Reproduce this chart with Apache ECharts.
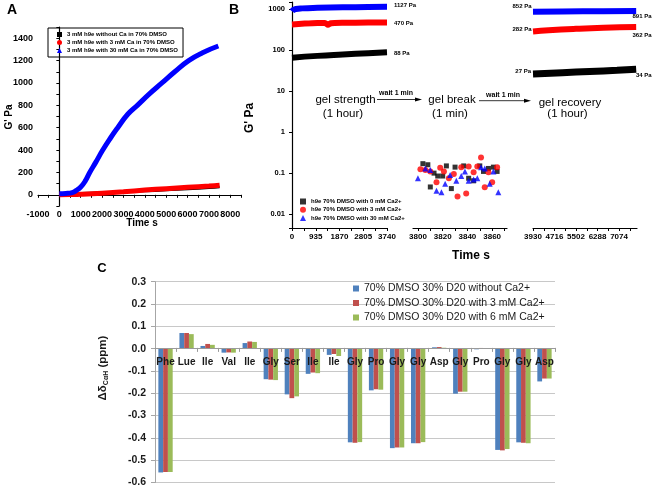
<!DOCTYPE html>
<html><head><meta charset="utf-8">
<script src="https://cdn.jsdelivr.net/npm/echarts@6/dist/echarts.min.js"></script>
<style>html,body{margin:0;padding:0;background:#fff}#c{width:656px;height:488px}</style>
</head><body><div id="c"></div>
<script>
// ---------- Panel A ----------
const aNames = ['3 mM h9e without Ca in 70% DMSO', '3 mM h9e with 3 mM Ca in 70% DMSO', '3 mM h9e with 30 mM Ca in 70% DMSO'];
const aBlack = [[0,5],[500,10],[1000,14],[2000,20],[3000,26],[4000,33],[5000,42],[6000,52],[7000,63],[7500,70]];
const aRed = [[0,0],[500,2],[1000,5],[2000,15],[3000,28],[4000,42],[5000,55],[6000,67],[7000,78],[7500,85]];
const aBlue = [[0,10],[300,12],[600,20],[800,40],[1000,70],[1200,120],[1420,200],[1700,290],[2030,400],[2400,510],[2730,600],[3200,720],[3650,800],[4200,900],[4800,1000],[5400,1100],[6050,1200],[6700,1270],[7440,1330]];

// ---------- Panel B ----------
const bNames = ['h9e 70% DMSO with 0 mM Ca2+', 'h9e 70% DMSO with 3 mM Ca2+', 'h9e 70% DMSO with 30 mM Ca2+'];
const bStrengthBlack = [[0,65],[1000,72],[2000,78],[3000,84],[3740,88]];
const bStrengthRed = [[0,420],[500,440],[1000,455],[1300,456],[1417,412],[1530,448],[2000,460],[3000,468],[3740,470]];
const bStrengthBlue = [[0,880],[60,950],[150,1000],[400,1035],[1000,1065],[2000,1095],[3000,1115],[3740,1127]];
const bBreakBlack = [[3804,0.17],[3808,0.16],[3810,0.046],[3813,0.10],[3816,0.085],[3820,0.085],[3823,0.15],[3827,0.042],[3830,0.14],[3837,0.15],[3841,0.075],[3845,0.065],[3850,0.15],[3853,0.11],[3857,0.13],[3861,0.14],[3864,0.11]];
const bBreakRed = [[3802,0.125],[3806,0.12],[3810,0.11],[3815,0.06],[3818,0.135],[3821,0.11],[3825,0.075],[3829,0.095],[3832,0.027],[3835,0.14],[3839,0.032],[3841,0.145],[3845,0.105],[3848,0.145],[3851,0.24],[3854,0.045],[3857,0.105],[3860,0.06],[3864,0.14]];
const bBreakBlue = [[3800,0.075],[3806,0.13],[3810,0.12],[3815,0.037],[3819,0.034],[3822,0.055],[3826,0.09],[3831,0.065],[3835,0.085],[3838,0.11],[3841,0.065],[3845,0.07],[3848,0.075],[3851,0.14],[3854,0.13],[3858,0.055],[3861,0.11],[3865,0.034]];
const bRecoveryBlack = [[3930,26],[5000,28],[6000,30],[7000,32],[7700,34]];
const bRecoveryRed = [[3930,282],[4500,302],[5500,328],[6500,348],[7700,362]];
const bRecoveryBlue = [[3930,852],[5000,870],[6500,884],[7700,891]];
const bSeg1Labels = [0,935,1870,2805,3740];
const bSeg2Labels = [3800,3820,3840,3860];
const bSeg3Labels = [3930,4716,5502,6288,7074];

// ---------- Panel C ----------
const cCategories = ['Phe','Lue','Ile','Val','Ile','Gly','Ser','Ile','Ile','Gly','Pro','Gly','Gly','Asp','Gly','Pro','Gly','Gly','Asp'];
const cNames = ['70% DMSO 30% D20 without Ca2+','70% DMSO 30% D20 with 3 mM Ca2+','70% DMSO 30% D20 with 6 mM Ca2+'];
const cNoCa = [-0.555,0.070,0.012,-0.018,0.025,-0.137,-0.205,-0.113,-0.028,-0.420,-0.187,-0.446,-0.424,0.006,-0.202,-0.003,-0.454,-0.420,-0.147];
const cCa3 = [-0.553,0.070,0.021,-0.017,0.032,-0.139,-0.222,-0.107,-0.024,-0.422,-0.182,-0.443,-0.424,0.007,-0.193,0.003,-0.456,-0.422,-0.134];
const cCa6 = [-0.553,0.065,0.017,-0.018,0.030,-0.141,-0.214,-0.110,-0.033,-0.419,-0.184,-0.443,-0.419,0.004,-0.193,0.001,-0.450,-0.424,-0.134];

const F = 'Liberation Sans, Arial, sans-serif';
const isDecade = v => Math.abs(Math.log10(v) - Math.round(Math.log10(v))) < 1e-6;
const axisBlack = {lineStyle:{color:'#000', width:1.2}};

function bX(idx, min, max, labels, ticks) {
  return {type:'value', gridIndex:idx, min:min, max:max,
    axisLine:axisBlack, splitLine:{show:false},
    axisTick:{customValues:ticks, length:3, lineStyle:{color:'#000'}},
    axisLabel:{customValues:labels, fontSize:8, fontWeight:'bold', fontFamily:F, color:'#000', margin:5,
      formatter: v => String(v)}};
}
function bY(idx, show) {
  return {type:'log', gridIndex:idx, min:0.0046, max:1480, show:show,
    axisLine:{show:true, lineStyle:{color:'#000', width:1.2}}, splitLine:{show:false},
    axisTick:{length:3, lineStyle:{color:'#000'}},
    axisLabel:{fontSize:7.5, fontWeight:'bold', fontFamily:F, color:'#000', margin:7,
      formatter: v => isDecade(v) ? String(+v.toPrecision(6)) : ''}};
}
function range(a, b, s){ const r=[]; for(let v=a; v<=b+1e-9; v+=s) r.push(+v.toFixed(3)); return r; }

const T = (text, x, y, font, opts, rot) => ({type:'text', x:x, y:y, rotation:rot||0, style:Object.assign({text:text, font:font, fill:'#000', textAlign:'center', textVerticalAlign:'middle'}, opts||{})});

const option = {
  backgroundColor:'#fff',
  animation:false,
  grid:[
    {left:38, top:27, width:203, height:179},
    {left:292, top:2, width:95, height:226},
    {left:413, top:2, width:94, height:226},
    {left:533, top:2, width:104, height:226},
    {left:155, top:281.7, width:400, height:201.6}
  ],
  xAxis:[
    {type:'value', gridIndex:0, min:-1000, max:8500, interval:500,
      axisLine:axisBlack, splitLine:{show:false}, axisTick:{length:3, lineStyle:{color:'#000'}},
      axisLabel:{fontSize:9, fontWeight:'bold', fontFamily:F, color:'#000', margin:4,
        formatter: v => (v % 1000 === 0 && v <= 8000) ? String(v) : ''}},
    bX(1, 0, 3740, bSeg1Labels, range(0,3740,467.5)),
    bX(2, 3796, 3872, bSeg2Labels, range(3800,3870,10)),
    bX(3, 3930, 7730, bSeg3Labels, range(3930,7467,393)),
    {type:'category', gridIndex:4, data:cCategories, position:'bottom', offset:-134.6, z:20,
      axisLine:{onZero:false, lineStyle:{color:'#9a9a9a'}},
      axisTick:{show:true, length:4, interval:0, lineStyle:{color:'#9a9a9a'}},
      axisLabel:{interval:0, fontSize:10, fontWeight:'bold', fontFamily:F, color:'#1a1a1a', margin:9}}
  ],
  yAxis:[
    {type:'value', gridIndex:0, min:-100, max:1500, interval:100,
      axisLine:{show:true, lineStyle:{color:'#000', width:1.2}}, splitLine:{show:false},
      axisTick:{show:true, length:3, lineStyle:{color:'#000'}},
      axisLabel:{fontSize:9, fontWeight:'bold', fontFamily:F, color:'#000', margin:5,
        formatter: v => (v >= 0 && v % 200 === 0 && v <= 1400) ? String(v) : ''}},
    bY(1, true), bY(2, false), bY(3, false),
    {type:'value', gridIndex:4, min:-0.6, max:0.3, interval:0.1,
      axisLine:{show:true, lineStyle:{color:'#a6a6a6'}},
      axisTick:{show:true, length:4, lineStyle:{color:'#a6a6a6'}},
      splitLine:{show:true, lineStyle:{color:'#c8c8c8', width:1}},
      axisLabel:{fontSize:10.5, fontWeight:'bold', fontFamily:F, color:'#1a1a1a', margin:9,
        formatter: v => v.toFixed(1)}}
  ],
  legend:[
    {left:48, top:28, orient:'vertical', borderColor:'#000', borderWidth:1, padding:[3,5,3,9],
      itemGap:1, itemWidth:5, itemHeight:5, selectedMode:false,
      textStyle:{fontSize:6, fontWeight:'bold', fontFamily:F, color:'#000', lineHeight:7},
      data:[{name:aNames[0], icon:'rect'},{name:aNames[1], icon:'circle'},{name:aNames[2], icon:'triangle'}]},
    {left:300, top:198, orient:'vertical', padding:0, itemGap:1.3, itemWidth:6, itemHeight:6, selectedMode:false,
      textStyle:{fontSize:6, fontWeight:'bold', fontFamily:F, color:'#000', lineHeight:7},
      data:[{name:bNames[0], icon:'rect'},{name:bNames[1], icon:'circle'},{name:bNames[2], icon:'triangle'}]},
    {left:353, top:282, orient:'vertical', padding:0, itemGap:1.5, itemWidth:6, itemHeight:6, selectedMode:false,
      textStyle:{fontSize:10.5, fontFamily:F, color:'#1a1a1a', lineHeight:13},
      data:[{name:cNames[0], icon:'rect'},{name:cNames[1], icon:'rect'},{name:cNames[2], icon:'rect'}]}
  ],
  series:[
    {name:aNames[0], type:'line', xAxisIndex:0, yAxisIndex:0, data:aBlack, smooth:true, showSymbol:false, color:'#000', lineStyle:{width:2.5}},
    {name:aNames[1], type:'line', xAxisIndex:0, yAxisIndex:0, data:aRed, smooth:true, showSymbol:false, color:'#ff0000', lineStyle:{width:5}},
    {name:aNames[2], type:'line', xAxisIndex:0, yAxisIndex:0, data:aBlue, smooth:true, showSymbol:false, color:'#0000ff', lineStyle:{width:5}},

    {name:'s1k', type:'line', xAxisIndex:1, yAxisIndex:1, data:bStrengthBlack, smooth:true, showSymbol:false, color:'#000', lineStyle:{width:6}},
    {name:'s1r', type:'line', xAxisIndex:1, yAxisIndex:1, data:bStrengthRed, smooth:0.2, showSymbol:false, color:'#ff0000', lineStyle:{width:6}},
    {name:'s1b', type:'line', xAxisIndex:1, yAxisIndex:1, data:bStrengthBlue, smooth:true, showSymbol:false, color:'#0000ff', lineStyle:{width:6}},

    {name:bNames[0], type:'scatter', xAxisIndex:2, yAxisIndex:2, data:bBreakBlack, symbol:'rect', symbolSize:5, color:'#000'},
    {name:bNames[1], type:'scatter', xAxisIndex:2, yAxisIndex:2, data:bBreakRed, symbol:'circle', symbolSize:6, color:'#ff0000'},
    {name:bNames[2], type:'scatter', xAxisIndex:2, yAxisIndex:2, data:bBreakBlue, symbol:'triangle', symbolSize:6, color:'#0000ff'},

    {name:'s3k', type:'line', xAxisIndex:3, yAxisIndex:3, data:bRecoveryBlack, smooth:true, showSymbol:false, color:'#000', lineStyle:{width:7}},
    {name:'s3r', type:'line', xAxisIndex:3, yAxisIndex:3, data:bRecoveryRed, smooth:true, showSymbol:false, color:'#ff0000', lineStyle:{width:6}},
    {name:'s3b', type:'line', xAxisIndex:3, yAxisIndex:3, data:bRecoveryBlue, smooth:true, showSymbol:false, color:'#0000ff', lineStyle:{width:6}},

    {name:cNames[0], type:'bar', xAxisIndex:4, yAxisIndex:4, data:cNoCa, color:'#4f81bd', barGap:'0%', barCategoryGap:'32%'},
    {name:cNames[1], type:'bar', xAxisIndex:4, yAxisIndex:4, data:cCa3, color:'#c0504d', barGap:'0%', barCategoryGap:'32%'},
    {name:cNames[2], type:'bar', xAxisIndex:4, yAxisIndex:4, data:cCa6, color:'#9bbb59', barGap:'0%', barCategoryGap:'32%'}
  ],
  graphic:[
    T('A', 12, 10, 'bold 14px '+F),
    T('B', 234, 10, 'bold 14px '+F),
    T('C', 102, 268, 'bold 13px '+F),
    T("G' Pa", 9, 117, 'bold 10px '+F, {}, Math.PI/2),
    T('Time s', 142, 223, 'bold 10px '+F),
    T("G' Pa", 250, 118, 'bold 12px '+F, {}, Math.PI/2),
    T('Time s', 471, 256, 'bold 12px '+F),
    T('1127 Pa', 394, 5, 'bold 6px '+F, {textAlign:'left'}),
    T('470 Pa', 394, 23.5, 'bold 6px '+F, {textAlign:'left'}),
    T('88 Pa', 394, 53.5, 'bold 6px '+F, {textAlign:'left'}),
    T('852 Pa', 531.5, 6.7, 'bold 6px '+F, {textAlign:'right'}),
    T('282 Pa', 531.5, 29.3, 'bold 6px '+F, {textAlign:'right'}),
    T('27 Pa', 531, 71.7, 'bold 6px '+F, {textAlign:'right'}),
    T('891 Pa', 632.5, 16.7, 'bold 6px '+F, {textAlign:'left'}),
    T('362 Pa', 632.5, 35.7, 'bold 6px '+F, {textAlign:'left'}),
    T('34 Pa', 636, 75.7, 'bold 6px '+F, {textAlign:'left'}),
    T('gel strength', 345.5, 100, '11.5px '+F),
    T('(1 hour)', 343, 113.5, '11.5px '+F),
    T('wait 1 min', 396, 93.5, 'bold 7px '+F),
    {type:'line', shape:{x1:377, y1:99.5, x2:416, y2:99.5}, style:{stroke:'#000', lineWidth:0.8}},
    {type:'polygon', shape:{points:[[415,97.5],[422,99.5],[415,101.5]]}, style:{fill:'#000'}},
    T('gel break', 452, 100, '11.5px '+F),
    T('(1 min)', 450, 113.5, '11.5px '+F),
    T('wait 1 min', 503, 95, 'bold 7px '+F),
    {type:'line', shape:{x1:479, y1:100.7, x2:525, y2:100.7}, style:{stroke:'#000', lineWidth:0.8}},
    {type:'polygon', shape:{points:[[524,98.7],[531,100.7],[524,102.7]]}, style:{fill:'#000'}},
    T('gel recovery', 570, 102.5, '11.5px '+F),
    T('(1 hour)', 567.5, 113.5, '11.5px '+F),
    {type:'text', x:103, y:368, rotation:Math.PI/2,
      style:{text:'{a|Δδ}{s|CαH}{a| (ppm)}', fill:'#1a1a1a', textAlign:'center', textVerticalAlign:'middle',
        rich:{a:{fontSize:11.5, fontWeight:'bold', fontFamily:F, fill:'#1a1a1a', lineHeight:14},
              s:{fontSize:7, fontWeight:'bold', fontFamily:F, fill:'#1a1a1a', lineHeight:14, padding:[6,0,0,0]}}}}
  ]
};
const chart = echarts.init(document.getElementById('c'), null, {renderer:'canvas'});
chart.setOption(option);
</script></body></html>
